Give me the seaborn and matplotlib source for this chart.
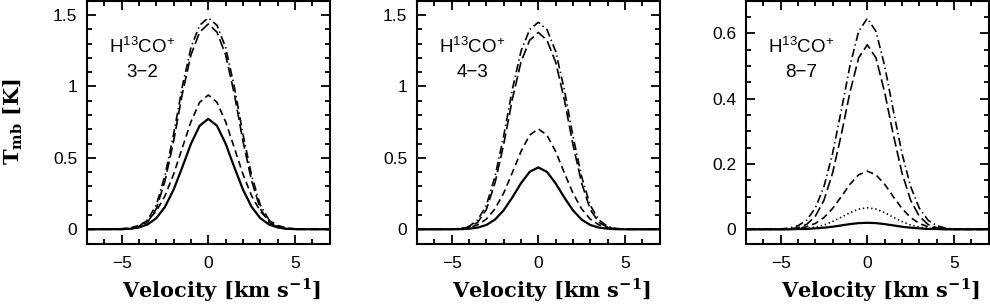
import numpy as np
import pandas as pd
import matplotlib
matplotlib.use("Agg")
import matplotlib.pyplot as plt
import seaborn as sns
from matplotlib.ticker import MultipleLocator, FuncFormatter

# ---------------- data ----------------
velocity = [-7, -5, -4.5, -4, -3.5, -3, -2.5, -2, -1.5, -1, -0.5, 0,
            0.5, 1, 1.5, 2, 2.5, 3, 3.5, 4, 4.5, 5, 7]

p1_solid = [0, 0.001, 0.004, 0.013, 0.034, 0.078, 0.157, 0.278, 0.435, 0.599, 0.725, 0.773,
            0.725, 0.599, 0.435, 0.278, 0.157, 0.078, 0.034, 0.013, 0.004, 0.001, 0]
p1_dashed = [0, 0.004, 0.010, 0.027, 0.062, 0.127, 0.234, 0.386, 0.571, 0.753, 0.889, 0.940,
             0.889, 0.753, 0.571, 0.386, 0.234, 0.127, 0.062, 0.027, 0.010, 0.004, 0]
p1_longdash = [0, 0.000, 0.003, 0.014, 0.050, 0.144, 0.338, 0.618, 0.948, 1.221, 1.380, 1.437,
               1.380, 1.221, 0.948, 0.618, 0.338, 0.144, 0.050, 0.014, 0.003, 0.000, 0]
p1_dashdot = [0, 0.001, 0.006, 0.021, 0.067, 0.170, 0.377, 0.666, 0.999, 1.273, 1.428, 1.480,
              1.428, 1.273, 0.999, 0.666, 0.377, 0.170, 0.067, 0.021, 0.006, 0.001, 0]

p2_solid = [0, 0.000, 0.001, 0.004, 0.012, 0.030, 0.068, 0.133, 0.223, 0.322, 0.402, 0.433,
            0.402, 0.322, 0.223, 0.133, 0.068, 0.030, 0.012, 0.004, 0.001, 0.000, 0]
p2_dashed = [0, 0.001, 0.004, 0.012, 0.031, 0.071, 0.143, 0.253, 0.396, 0.545, 0.659, 0.703,
             0.659, 0.545, 0.396, 0.253, 0.143, 0.071, 0.031, 0.012, 0.004, 0.001, 0]
p2_longdash = [0, 0.000, 0.003, 0.014, 0.048, 0.138, 0.324, 0.593, 0.909, 1.171, 1.323, 1.378,
               1.323, 1.171, 0.909, 0.593, 0.324, 0.138, 0.048, 0.014, 0.003, 0.000, 0]
p2_dashdot = [0, 0.001, 0.006, 0.020, 0.065, 0.167, 0.369, 0.652, 0.978, 1.246, 1.398, 1.449,
              1.398, 1.246, 0.978, 0.652, 0.369, 0.167, 0.065, 0.020, 0.006, 0.001, 0]

p3_solid = [0, 0.000, 0.000, 0.001, 0.001, 0.003, 0.005, 0.008, 0.012, 0.016, 0.019, 0.020,
            0.019, 0.016, 0.012, 0.008, 0.005, 0.003, 0.001, 0.001, 0.000, 0.000, 0]
p3_dotted = [0, 0.000, 0.000, 0.001, 0.003, 0.007, 0.013, 0.024, 0.037, 0.051, 0.062, 0.066,
             0.062, 0.051, 0.037, 0.024, 0.013, 0.007, 0.003, 0.001, 0.000, 0.000, 0]
p3_dashed = [0, 0.000, 0.001, 0.003, 0.008, 0.018, 0.036, 0.064, 0.100, 0.138, 0.167, 0.178,
             0.167, 0.138, 0.100, 0.064, 0.036, 0.018, 0.008, 0.003, 0.001, 0.000, 0]
p3_longdash = [0, 0.000, 0.001, 0.005, 0.015, 0.040, 0.089, 0.173, 0.290, 0.420, 0.525, 0.565,
               0.525, 0.420, 0.290, 0.173, 0.089, 0.040, 0.015, 0.005, 0.001, 0.000, 0]
p3_dashdot = [0, 0.001, 0.004, 0.011, 0.028, 0.065, 0.131, 0.233, 0.364, 0.501, 0.606, 0.646,
              0.606, 0.501, 0.364, 0.233, 0.131, 0.065, 0.028, 0.011, 0.004, 0.001, 0]

panel_titles = ["3\u22122", "4\u22123", "8\u22127"]
molecule = r"H$^{\mathregular{13}}$CO$^{\mathregular{+}}$"
x_label = r"Velocity [km s$^{\mathbf{-1}}$]"
y_label = r"T$_{\mathbf{mb}}$ [K]"

# ---------------- styling ----------------
sns.set_style("ticks")
plt.rcParams["font.family"] = ["Liberation Sans", "DejaVu Sans"]
plt.rcParams["mathtext.fontset"] = "custom"
plt.rcParams["mathtext.rm"] = "Liberation Sans"
plt.rcParams["mathtext.bf"] = "DejaVu Serif:bold"
plt.rcParams["mathtext.sf"] = "Liberation Sans"
plt.rcParams["lines.scale_dashes"] = False
plt.rcParams["axes.unicode_minus"] = True
plt.rcParams["text.color"] = "black"
plt.rcParams["axes.labelcolor"] = "black"
plt.rcParams["xtick.color"] = "black"
plt.rcParams["ytick.color"] = "black"

styles = {
    "solid": "-",
    "dotted": (0, (1.0, 2.0)),
    "dashed": (0, (5.0, 3.0)),
    "longdash": (0, (7.5, 3.0)),
    "dashdot": (0, (6.0, 2.5, 1.0, 2.5)),
}

panels = [
    {"solid": p1_solid, "dashed": p1_dashed, "longdash": p1_longdash, "dashdot": p1_dashdot},
    {"solid": p2_solid, "dashed": p2_dashed, "longdash": p2_longdash, "dashdot": p2_dashdot},
    {"solid": p3_solid, "dotted": p3_dotted, "dashed": p3_dashed,
     "longdash": p3_longdash, "dashdot": p3_dashdot},
]

W, H = 990, 306
fig = plt.figure(figsize=(W / 100, H / 100), dpi=100)

ax_left_px = [87, 417, 746]
ax_w_px = 242.6
ax_top_px, ax_bot_px = 0.7, 243.6

ylims = [(-0.1, 1.6), (-0.1, 1.6), (-0.0437, 0.7)]
ymajor = [0.5, 0.5, 0.2]
yminor = [0.1, 0.1, 0.05]

fmt = FuncFormatter(lambda v, p: ("%g" % round(v, 3)).replace("-", "\u2212"))

for i, series in enumerate(panels):
    ax = fig.add_axes([ax_left_px[i] / W, 1 - ax_bot_px / H,
                       ax_w_px / W, (ax_bot_px - ax_top_px) / H])
    for name, vals in series.items():
        df = pd.DataFrame({"v": velocity, "T": vals})
        sns.lineplot(data=df, x="v", y="T", ax=ax, color="black",
                     linestyle=styles[name], linewidth=1.2 if name != "solid" else 1.6,
                     errorbar=None, sort=False)
    ax.set_xlim(-7, 7)
    ax.set_ylim(*ylims[i])
    ax.xaxis.set_major_locator(MultipleLocator(5))
    ax.xaxis.set_minor_locator(MultipleLocator(1))
    ax.yaxis.set_major_locator(MultipleLocator(ymajor[i]))
    ax.yaxis.set_minor_locator(MultipleLocator(yminor[i]))
    ax.xaxis.set_major_formatter(fmt)
    ax.yaxis.set_major_formatter(fmt)
    ax.tick_params(which="both", direction="in", top=True, right=True,
                   width=1.3, colors="black", labelcolor="black", labelsize=12.5)
    ax.tick_params(which="major", length=6.5)
    ax.tick_params(which="minor", length=3.5)
    ax.tick_params(axis="x", which="major", pad=9)
    ax.tick_params(axis="y", which="major", pad=7)
    for s in ax.spines.values():
        s.set_linewidth(1.5)
        s.set_color("black")
        s.set_visible(True)

    ax.set_xlabel(x_label, fontfamily="DejaVu Serif", fontweight="bold", fontsize=15,
                  color="black")
    ax.xaxis.label.set_va("baseline")
    ax.xaxis.set_label_coords(0.556, (ax_bot_px - 297.5) / (ax_bot_px - ax_top_px))
    if i == 0:
        ax.set_ylabel(y_label, fontfamily="DejaVu Serif", fontweight="bold", fontsize=15,
                      color="black")
        ax.yaxis.label.set_va("center")
        ax.yaxis.set_label_coords((13 - 87) / ax_w_px, 0.5)
    else:
        ax.set_ylabel("")

    ax.text(0.227, 0.809, molecule, transform=ax.transAxes, ha="center", va="center",
            fontsize=13.5, fontfamily="Liberation Sans", color="black")
    ax.text(0.227, 0.706, panel_titles[i], transform=ax.transAxes, ha="center", va="center",
            fontsize=13.5, fontfamily="Liberation Sans", color="black")

fig.savefig("out.png", dpi=100)
